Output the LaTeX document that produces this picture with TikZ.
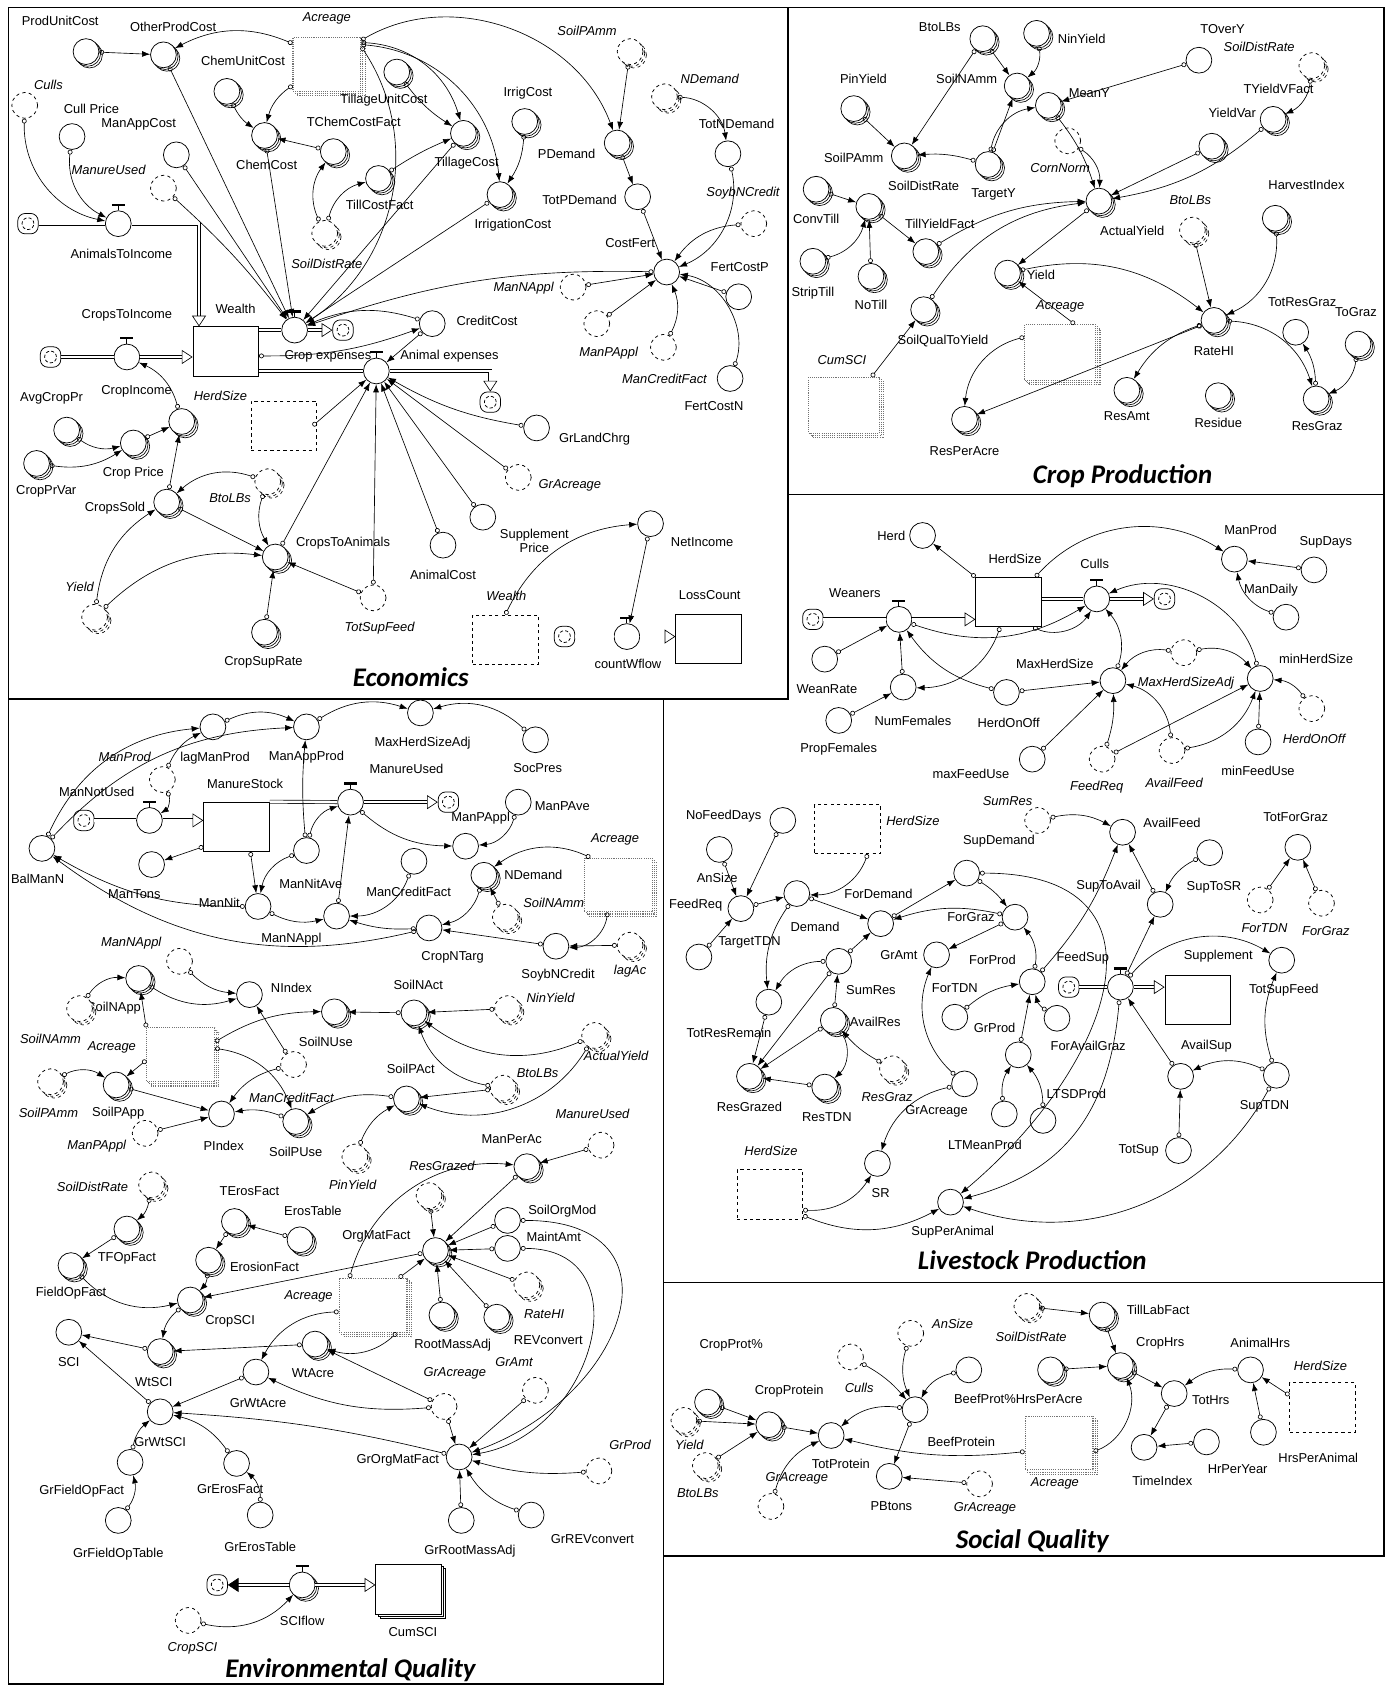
\documentclass[tikz,border=0pt]{standalone}
\usepackage{fontspec}
\setmainfont{Liberation Sans}
\newfontfamily\carlito{Carlito}
\usepackage{tikz}
\usetikzlibrary{arrows.meta, positioning, shadows}
\newcommand\lblfont{\fontsize{12}{13.5}\selectfont}
\newcommand\ttlfont{\carlito\bfseries\itshape\fontsize{25}{30}\selectfont}

\begin{document}
\begin{tikzpicture}[
    x=1pt, y=1pt,
    >=Latex,
    conv/.style={circle, draw, solid, line width=0.7pt, minimum size=24pt, inner sep=0pt, fill=white},
    arr/.style={conv,
      general shadow={shadow xshift=3.2pt, shadow yshift=-3.2pt, draw, solid, fill=white, line width=0.6pt},
      general shadow={shadow xshift=1.6pt, shadow yshift=-1.6pt, draw, solid, fill=white, line width=0.6pt}},
    ghost/.style={conv, dashed},
    garr/.style={conv, dashed,
      general shadow={shadow xshift=3.2pt, shadow yshift=-3.2pt, draw, dashed, fill=white, line width=0.6pt},
      general shadow={shadow xshift=1.6pt, shadow yshift=-1.6pt, draw, dashed, fill=white, line width=0.6pt}},
    valve/.style={conv, append after command={\pgfextra{
      \draw[line width=0.8pt] (\tikzlastnode.north) -- ++(0,5pt);
      \draw[line width=2pt] ([shift={(-6pt,5pt)}]\tikzlastnode.north) -- ++(12pt,0);}}},
    stock/.style={rectangle, draw, solid, line width=0.8pt, minimum width=61pt, minimum height=46pt, fill=white},
    gstock/.style={stock, dashed},
    astock/.style={rectangle, draw=black!55, densely dotted, line width=1pt, minimum width=63pt, minimum height=50pt, fill=white,
      general shadow={shadow xshift=4pt, shadow yshift=-4pt, draw=black!55, densely dotted, fill=white, line width=1pt},
      general shadow={shadow xshift=2pt, shadow yshift=-2pt, draw=black!55, densely dotted, fill=white, line width=1pt}},
    sstock/.style={stock,
      general shadow={shadow xshift=4pt, shadow yshift=-4pt, draw, solid, fill=white, line width=0.7pt},
      general shadow={shadow xshift=2pt, shadow yshift=-2pt, draw, solid, fill=white, line width=0.7pt}},
    cloud/.style={rectangle, rounded corners=7pt, draw, solid, line width=0.7pt, minimum size=19pt, fill=white,
      path picture={\draw[densely dashed] (path picture bounding box.center) circle (5.5pt);}},
    lab/.style={font=\lblfont, inner sep=1pt},
    glab/.style={font=\lblfont\itshape, inner sep=1pt},
    title/.style={font=\ttlfont, inner sep=1pt},
    frame/.style={line width=1.3pt},
    cn/.style={{Circle[open, length=4.5pt, width=4.5pt]}-{Latex[length=7.5pt, width=5.5pt]}, line width=0.6pt},
    pipe/.style={double, double distance=2.4pt, line width=0.6pt},
    flowin/.style={pipe, -{Triangle[open, length=10pt, width=13pt]}},
    flowout/.style={pipe, -{Triangle[length=10pt, width=13pt]}},
]
    \useasboundingbox (0,0) rectangle (1292,-1568);

    % Panel frames
    \draw[frame] (8,-7) rectangle (733,-650);
    \draw[frame] (733,-7) rectangle (1287,-460);
    \draw[frame] (1287,-460) -- (1287,-1447) -- (617,-1447) -- (617,-650);
    \draw[frame] (617,-1193) -- (1287,-1193);
    \draw[frame] (8,-650) -- (8,-1566) -- (617,-1566) -- (617,-1447);

    % ================= Economics =================
    \node[arr] (ProdUnitCost) at (80,-48) {};
    \node[lab] (lProdUnitCost) at (56,-19) {ProdUnitCost};
    \node[arr] (OtherProdCost) at (152,-51) {};
    \node[lab] (lOtherProdCost) at (161,-25) {OtherProdCost};
    \node[astock] (AcreageEc) at (304,-60) {};
    \node[glab] (lAcreageEc) at (304,-17) {Acreage};
    \node[arr] (ChemUnitCost) at (211,-85) {};
    \node[lab] (lChemUnitCost) at (226,-57) {ChemUnitCost};
    \node[arr] (TillageUnitCost) at (369,-67) {};
    \node[lab] (lTillageUnitCost) at (357,-93) {TillageUnitCost};
    \node[lab] (lTChemCostFact) at (329,-113) {TChemCostFact};
    \node[arr] (TChemCostFact) at (310,-141) {};
    \node[arr] (ChemCost) at (246,-126) {};
    \node[lab] (lChemCost) at (248,-153) {ChemCost};
    \node[ghost] (CullsE) at (23,-98) {};
    \node[glab] (lCullsE) at (45,-79) {Culls};
    \node[lab] (lCullPrice) at (85,-101) {Cull Price};
    \node[conv] (CullPrice) at (67,-127) {};
    \node[lab] (lManAppCost) at (129,-116) {ManAppCost};
    \node[conv] (ManAppCost) at (164,-144) {};
    \node[ghost] (ManureUsedE) at (152,-175) {};
    \node[glab] (lManureUsedE) at (101,-158) {ManureUsed};
    \node[arr] (TillCostFact) at (352,-166) {};
    \node[lab] (lTillCostFact) at (353,-191) {TillCostFact};
    \node[garr] (SoilDistRateE) at (302,-217) {};
    \node[glab] (lSoilDistRateE) at (304,-245) {SoilDistRate};
    \node[cloud] (cAnimals) at (26,-208) {};
    \node[valve] (AnimalsToIncome) at (110,-208) {};
    \node[lab] (lAnimalsToIncome) at (113,-236) {AnimalsToIncome};
    \node[stock] (Wealth) at (210,-327) {};
    \node[lab] (lWealth) at (219,-287) {Wealth};
    \node[lab] (lCropsToIncome) at (118,-293) {CropsToIncome};
    \node[cloud] (cCrops) at (47,-332) {};
    \node[valve] (CropIncome) at (118,-332) {};
    \node[lab] (lCropIncome) at (127,-364) {CropIncome};
    \node[valve] (CropExp) at (274,-307) {};
    \node[cloud] (cCropExp) at (319,-307) {};
    \node[lab] (lCropExp) at (305,-331) {Crop expenses};
    \node[valve] (AnimalExp) at (350,-345) {};
    \node[lab] (lAnimalExp) at (418,-331) {Animal expenses};
    \node[cloud] (cAnimalExp) at (456,-374) {};
    \node[conv] (CreditCost) at (402,-301) {};
    \node[lab] (lCreditCost) at (453,-298) {CreditCost};
    \node[arr] (TillageCost) at (431,-124) {};
    \node[lab] (lTillageCost) at (434,-152) {TillageCost};
    \node[lab] (lIrrigCost) at (491,-87) {IrrigCost};
    \node[arr] (IrrigCost) at (488,-113) {};
    \node[arr] (IrrigationCost) at (465,-181) {};
    \node[lab] (lIrrigationCost) at (477,-209) {IrrigationCost};
    \node[glab] (lSoilPAmmE) at (546,-29) {SoilPAmm};
    \node[garr] (SoilPAmmE) at (586,-48) {};
    \node[arr] (PDemand) at (574,-133) {};
    \node[lab] (lPDemand) at (527,-143) {PDemand};
    \node[glab] (lNDemandE) at (660,-73) {NDemand};
    \node[garr] (NDemandE) at (618,-90) {};
    \node[lab] (lTotNDemand) at (685,-115) {TotNDemand};
    \node[conv] (TotNDemand) at (677,-143) {};
    \node[conv] (TotPDemand) at (593,-183) {};
    \node[lab] (lTotPDemand) at (539,-186) {TotPDemand};
    \node[glab] (lSoybNCreditE) at (691,-180) {SoybNCredit};
    \node[ghost] (SoybNCreditE) at (701,-208) {};
    \node[conv] (CostFert) at (620,-253) {};
    \node[lab] (lCostFert) at (586,-226) {CostFert};
    \node[conv] (FertCostP) at (687,-276) {};
    \node[lab] (lFertCostP) at (688,-248) {FertCostP};
    \node[ghost] (ManNApplE) at (533,-267) {};
    \node[glab] (lManNApplE) at (487,-268) {ManNAppl};
    \node[ghost] (ManPApplE) at (555,-301) {};
    \node[glab] (lManPApplE) at (566,-328) {ManPAppl};
    \node[ghost] (ManCreditFactE) at (617,-323) {};
    \node[glab] (lManCreditFactE) at (618,-352) {ManCreditFact};
    \node[conv] (FertCostN) at (679,-352) {};
    \node[lab] (lFertCostN) at (664,-378) {FertCostN};
    \node[gstock] (HerdSizeE) at (264,-396) {};
    \node[glab] (lHerdSizeE) at (205,-368) {HerdSize};
    \node[lab] (lAvgCropPr) at (48,-370) {AvgCropPr};
    \node[arr] (AvgCropPr) at (62,-400) {};
    \node[arr] (CropPrice) at (124,-412) {};
    \node[lab] (lCropPrice) at (124,-440) {Crop Price};
    \node[arr] (CropInc) at (169,-392) {};
    \node[arr] (CropPrVar) at (34,-431) {};
    \node[lab] (lCropPrVar) at (43,-457) {CropPrVar};
    \node[arr] (CropsSold) at (155,-467) {};
    \node[lab] (lCropsSold) at (107,-473) {CropsSold};
    \node[garr] (BtoLBsE) at (249,-448) {};
    \node[glab] (lBtoLBsE) at (214,-463) {BtoLBs};
    \node[arr] (CropsToAnimals) at (256,-518) {};
    \node[lab] (lCropsToAnimals) at (319,-505) {CropsToAnimals};
    \node[garr] (YieldE) at (88,-574) {};
    \node[glab] (lYieldE) at (74,-546) {Yield};
    \node[arr] (CropSupRate) at (246,-588) {};
    \node[lab] (lCropSupRate) at (245,-616) {CropSupRate};
    \node[ghost] (TotSupFeedE) at (347,-556) {};
    \node[glab] (lTotSupFeedE) at (353,-584) {TotSupFeed};
    \node[conv] (GrLandChrg) at (499,-398) {};
    \node[lab] (lGrLandChrg) at (553,-408) {GrLandChrg};
    \node[ghost] (GrAcreageE) at (482,-444) {};
    \node[glab] (lGrAcreageE) at (530,-451) {GrAcreage};
    \node[conv] (SupPrice) at (449,-481) {};
    \node[lab, align=center] (lSupPrice) at (497,-503) {Supplement\\Price};
    \node[conv] (AnimalCost) at (412,-507) {};
    \node[lab] (lAnimalCost) at (412,-535) {AnimalCost};
    \node[conv] (NetIncome) at (605,-487) {};
    \node[lab] (lNetIncome) at (653,-504) {NetIncome};
    \node[gstock] (WealthG) at (470,-595) {};
    \node[glab] (lWealthG) at (471,-554) {Wealth};
    \node[cloud] (cCount) at (525,-592) {};
    \node[valve] (countWflow) at (583,-592) {};
    \node[lab] (lcountWflow) at (584,-617) {countWflow};
    \node[stock] (LossCount) at (659,-594) {};
    \node[lab] (lLossCount) at (660,-553) {LossCount};
    \node[title] (tEcon) at (382,-630) {Economics};

    \draw[pipe] (cAnimals) -- (AnimalsToIncome);
    \draw[flowin] (AnimalsToIncome) -| ([xshift=6pt]Wealth.north west);
    \draw[pipe] (cCrops) -- (CropIncome);
    \draw[flowin] (CropIncome) -- (CropIncome -| Wealth.west);
    \draw[pipe] (CropExp -| Wealth.east) -- (CropExp);
    \draw[flowin] (CropExp) -- (cCropExp);
    \draw[pipe] (AnimalExp -| Wealth.east) -- (AnimalExp);
    \draw[flowin] (AnimalExp) -| (cAnimalExp);
    \draw[pipe] (cCount) -- (countWflow);
    \draw[flowin] (countWflow) -- (countWflow -| LossCount.west);

    \draw[cn] (ProdUnitCost) -- (OtherProdCost);
    \draw[cn] ([yshift=-6pt]AcreageEc.north west) to[bend right=25] (OtherProdCost);
    \draw[cn] ([yshift=6pt]AcreageEc.south west) to[bend right=20] (ChemCost);
    \draw[cn] (ChemUnitCost) to[bend right=15] (ChemCost);
    \draw[cn] (TChemCostFact) -- (ChemCost);
    \draw[cn] (SoilDistRateE) to[bend left=30] (TChemCostFact);
    \draw[cn] (SoilDistRateE) to[bend left=30] (TillCostFact);
    \draw[cn] (TillCostFact) to[bend left=5] (TillageCost);
    \draw[cn] (TillageUnitCost) to[bend right=10] (TillageCost);
    \draw[cn] ([yshift=-5pt]AcreageEc.north east) to[bend left=35] (TillageCost);
    \draw[cn] ([yshift=-7pt]AcreageEc.north east) to[bend left=40] (IrrigationCost);
    \draw[cn] ([yshift=-3pt]AcreageEc.north east) to[bend left=50] (PDemand);
    \draw[cn] ([yshift=-9pt]AcreageEc.north east) to[bend left=45] (CropExp);
    \draw[cn] (IrrigCost) to[bend left=15] (IrrigationCost);
    \draw[cn] (SoilPAmmE) -- (PDemand);
    \draw[cn] (PDemand) -- (TotPDemand);
    \draw[cn] (TotPDemand) -- (CostFert);
    \draw[cn] (NDemandE) to[bend left=40] (TotNDemand);
    \draw[cn] (TotNDemand) to[bend left=40] (CostFert);
    \draw[cn] (SoybNCreditE) to[bend right=25] (CostFert);
    \draw[cn] (FertCostP) -- (CostFert);
    \draw[cn] (ManNApplE) -- (CostFert);
    \draw[cn] (ManPApplE) -- (CostFert);
    \draw[cn] (ManCreditFactE) to[bend right=25] (CostFert);
    \draw[cn] (FertCostN) to[bend right=50] (CostFert);
    \draw[cn] (CostFert) to[bend right=10] (CropExp);
    \draw[cn] (OtherProdCost) -- (CropExp);
    \draw[cn] (ChemCost) -- (CropExp);
    \draw[cn] (ManAppCost) -- (CropExp);
    \draw[cn] (ManureUsedE) to[bend left=5] (CropExp);
    \draw[cn] (TillageCost) -- (CropExp);
    \draw[cn] (IrrigationCost) -- (CropExp);
    \draw[cn] (CullsE) to[bend right=40] (AnimalsToIncome);
    \draw[cn] (CullPrice) to[bend right=35] (AnimalsToIncome);
    \draw[cn] (CropInc) to[bend right=25] (CropIncome);
    \draw[cn] (CropPrice) -- (CropInc);
    \draw[cn] (AvgCropPr) to[bend right=25] (CropPrice);
    \draw[cn] (CropPrVar) to[bend right=20] (CropPrice);
    \draw[cn] (CropsSold) -- (CropInc);
    \draw[cn] (BtoLBsE) to[bend right=30] (CropsSold);
    \draw[cn] (BtoLBsE) to[bend right=25] (CropsToAnimals);
    \draw[cn] (YieldE) to[bend left=25] (CropsSold);
    \draw[cn] (YieldE) to[bend left=25] (CropsToAnimals);
    \draw[cn] (CropsSold) -- (CropsToAnimals);
    \draw[cn] (CropSupRate) -- (CropsToAnimals);
    \draw[cn] (TotSupFeedE) -- (CropsToAnimals);
    \draw[cn] (CropsToAnimals) -- (AnimalExp);
    \draw[cn] ([xshift=-4pt]HerdSizeE.east) -- (AnimalExp);
    \draw[cn] (TotSupFeedE) -- (AnimalExp);
    \draw[cn] (AnimalCost) -- (AnimalExp);
    \draw[cn] (SupPrice) -- (AnimalExp);
    \draw[cn] (GrAcreageE) -- (AnimalExp);
    \draw[cn] (GrLandChrg) to[bend left=10] (AnimalExp);
    \draw[cn] (CreditCost) -- (AnimalExp);
    \draw[cn] (CreditCost) to[bend right=20] (CropExp);
    \draw[cn] ([yshift=-4pt]Wealth.east) to[bend right=10] (CreditCost);
    \draw[cn] (WealthG.north) to[bend left=30] (NetIncome);
    \draw[cn] (NetIncome) -- (countWflow);

    % ================= Crop Production =================
    \node[lab] (lBtoLBsC) at (874,-25) {BtoLBs};
    \node[arr] (BtoLBsC) at (914,-36) {};
    \node[arr] (NinYieldC) at (964,-31) {};
    \node[lab] (lNinYieldC) at (1006,-36) {NinYield};
    \node[arr] (SoilNAmmC) at (946,-80) {};
    \node[lab] (lSoilNAmmC) at (899,-73) {SoilNAmm};
    \node[lab] (lPinYieldC) at (803,-73) {PinYield};
    \node[arr] (PinYieldC) at (794,-101) {};
    \node[arr] (SoilPAmmC) at (841,-145) {};
    \node[lab] (lSoilPAmmC) at (794,-147) {SoilPAmm};
    \node[lab] (lSoilDistRateC) at (859,-173) {SoilDistRate};
    \node[arr] (TargetY) at (919,-153) {};
    \node[lab] (lTargetY) at (924,-181) {TargetY};
    \node[arr] (MeanY) at (975,-98) {};
    \node[lab] (lMeanY) at (1013,-87) {MeanY};
    \node[conv] (TOverY) at (1115,-56) {};
    \node[lab] (lTOverY) at (1137,-27) {TOverY};
    \node[glab] (lSoilDistRateC2) at (1171,-44) {SoilDistRate};
    \node[garr] (SoilDistRateC2) at (1220,-61) {};
    \node[lab] (lTYieldVFact) at (1189,-83) {TYieldVFact};
    \node[arr] (YieldVar) at (1184,-111) {};
    \node[lab] (lYieldVar) at (1146,-105) {YieldVar};
    \node[ghost] (CornNorm) at (993,-131) {};
    \node[glab] (lCornNorm) at (986,-156) {CornNorm};
    \node[arr] (YieldAdj) at (1127,-136) {};
    \node[arr] (ActualYield) at (1022,-187) {};
    \node[lab] (lActualYield) at (1053,-215) {ActualYield};
    \node[garr] (BtoLBsC2) at (1109,-214) {};
    \node[glab] (lBtoLBsC2) at (1107,-186) {BtoLBs};
    \node[lab] (lHarvestIndex) at (1215,-172) {HarvestIndex};
    \node[arr] (HarvestIndex) at (1186,-203) {};
    \node[arr] (ConvTill) at (759,-176) {};
    \node[lab] (lConvTill) at (759,-204) {ConvTill};
    \node[arr] (TillSel) at (808,-192) {};
    \node[lab] (lTillYieldFact) at (874,-208) {TillYieldFact};
    \node[arr] (TillYieldFact) at (861,-234) {};
    \node[arr] (StripTill) at (756,-243) {};
    \node[lab] (lStripTill) at (756,-273) {StripTill};
    \node[arr] (NoTill) at (810,-257) {};
    \node[lab] (lNoTill) at (810,-284) {NoTill};
    \node[arr] (YieldC) at (937,-254) {};
    \node[lab] (lYieldC) at (968,-256) {Yield};
    \node[glab] (lAcreageC) at (986,-285) {Acreage};
    \node[astock, minimum width=66pt, minimum height=52pt] (AcreageC) at (986,-328) {};
    \node[arr] (SoilQualToYield) at (859,-288) {};
    \node[lab] (lSoilQualToYield) at (877,-317) {SoilQualToYield};
    \node[glab] (lCumSCIC) at (783,-335) {CumSCI};
    \node[astock, minimum width=66pt, minimum height=52pt] (CumSCIC) at (785,-377) {};
    \node[arr] (RateHI) at (1129,-298) {};
    \node[lab] (lRateHI) at (1129,-327) {RateHI};
    \node[lab] (lTotResGraz) at (1211,-281) {TotResGraz};
    \node[conv] (TotResGraz) at (1205,-309) {};
    \node[lab] (lToGraz) at (1261,-290) {ToGraz};
    \node[arr] (ToGraz) at (1263,-320) {};
    \node[arr] (ResGraz) at (1224,-371) {};
    \node[lab] (lResGraz) at (1225,-396) {ResGraz};
    \node[arr] (ResAmt) at (1048,-363) {};
    \node[lab] (lResAmt) at (1048,-387) {ResAmt};
    \node[arr] (Residue) at (1133,-368) {};
    \node[lab] (lResidue) at (1133,-393) {Residue};
    \node[arr] (ResPerAcre) at (897,-390) {};
    \node[lab] (lResPerAcre) at (897,-420) {ResPerAcre};
    \node[title] (tCrop) at (1044,-443) {Crop Production};

    \draw[cn] (BtoLBsC) -- (SoilPAmmC);
    \draw[cn] (BtoLBsC) -- (SoilNAmmC);
    \draw[cn] (NinYieldC) to[bend left=30] (SoilNAmmC);
    \draw[cn] (PinYieldC) -- (SoilPAmmC);
    \draw[cn] (TargetY) to[bend right=10] (SoilPAmmC);
    \draw[cn] (TargetY) -- (SoilNAmmC);
    \draw[cn] (TargetY) to[bend left=35] (MeanY);
    \draw[cn] (TOverY) -- (MeanY);
    \draw[cn] (SoilDistRateC2) to[bend left=30] (YieldVar);
    \draw[cn] (MeanY) to[bend left=10] (ActualYield);
    \draw[cn] (YieldVar) to[bend left=15] (ActualYield);
    \draw[cn] (YieldAdj) -- (ActualYield);
    \draw[cn] (CornNorm) to[bend left=30] (ActualYield);
    \draw[cn] (TillYieldFact) to[bend left=15] (ActualYield);
    \draw[cn] (ConvTill) -- (TillSel);
    \draw[cn] (StripTill) to[bend right=30] (TillSel);
    \draw[cn] (NoTill) -- (TillSel);
    \draw[cn] (TillSel) -- (TillYieldFact);
    \draw[cn] (SoilQualToYield) to[bend left=25] (ActualYield);
    \draw[cn] ([xshift=-8pt]CumSCIC.north east) -- (SoilQualToYield);
    \draw[cn] (ActualYield) -- (YieldC);
    \draw[cn] ([xshift=-20pt]AcreageC.north east) -- (YieldC);
    \draw[cn] (YieldC) to[bend left=25] (RateHI);
    \draw[cn] (BtoLBsC2) -- (RateHI);
    \draw[cn] (HarvestIndex) to[bend left=35] (RateHI);
    \draw[cn] (RateHI) to[bend right=20] (ResAmt);
    \draw[cn] (RateHI) -- (ResPerAcre);
    \draw[cn] ([yshift=-12pt]AcreageC.north west) to[bend right=35] (ResPerAcre);
    \draw[cn] (RateHI) to[bend left=35] (ResGraz);
    \draw[cn] (ResGraz) to[bend right=15] (TotResGraz);
    \draw[cn] (ToGraz) to[bend left=30] (ResGraz);

    % ================= Livestock Production =================
    \node[lab] (lHerd) at (829,-498) {Herd};
    \node[conv] (Herd) at (858,-498) {};
    \node[lab] (lHerdSize) at (944,-520) {HerdSize};
    \node[stock] (HerdSize) at (938,-560) {};
    \node[lab] (lCulls) at (1018,-524) {Culls};
    \node[valve] (Culls) at (1020,-557) {};
    \node[cloud] (cCulls) at (1083,-557) {};
    \node[lab] (lWeaners) at (795,-552) {Weaners};
    \node[valve] (Weaners) at (836,-576) {};
    \node[cloud] (cWeaners) at (756,-576) {};
    \node[lab] (lManProd) at (1163,-493) {ManProd};
    \node[conv] (ManProd) at (1148,-520) {};
    \node[lab] (lSupDays) at (1233,-504) {SupDays};
    \node[conv] (SupDays) at (1222,-530) {};
    \node[lab] (lManDaily) at (1182,-549) {ManDaily};
    \node[conv] (ManDaily) at (1196,-574) {};
    \node[conv] (WeanRate) at (767,-613) {};
    \node[lab] (lWeanRate) at (769,-641) {WeanRate};
    \node[conv] (NumFemales) at (840,-639) {};
    \node[lab] (lNumFemales) at (849,-670) {NumFemales};
    \node[conv] (PropFemales) at (780,-670) {};
    \node[lab] (lPropFemales) at (780,-697) {PropFemales};
    \node[conv] (HerdOnOff) at (936,-644) {};
    \node[lab] (lHerdOnOff) at (938,-672) {HerdOnOff};
    \node[lab] (lMaxHerdSize) at (981,-617) {MaxHerdSize};
    \node[conv] (MaxHerdSize) at (1035,-633) {};
    \node[ghost] (MaxHerdSizeAdjL) at (1101,-607) {};
    \node[glab] (lMaxHerdSizeAdjL) at (1103,-635) {MaxHerdSizeAdj};
    \node[lab] (lminHerdSize) at (1224,-613) {minHerdSize};
    \node[conv] (minHerdSize) at (1172,-631) {};
    \node[ghost] (HerdOnOffL) at (1220,-659) {};
    \node[glab] (lHerdOnOffL) at (1222,-687) {HerdOnOff};
    \node[conv] (minFeedUse) at (1170,-690) {};
    \node[lab] (lminFeedUse) at (1170,-717) {minFeedUse};
    \node[conv] (maxFeedUse) at (960,-706) {};
    \node[lab] (lmaxFeedUse) at (903,-720) {maxFeedUse};
    \node[ghost] (FeedReqL) at (1025,-706) {};
    \node[glab] (lFeedReqL) at (1020,-732) {FeedReq};
    \node[ghost] (AvailFeedL) at (1090,-698) {};
    \node[glab] (lAvailFeedL) at (1092,-728) {AvailFeed};
    \node[glab] (lSumResL) at (937,-745) {SumRes};
    \node[ghost] (SumResL) at (965,-763) {};
    \node[lab] (lAvailFeed) at (1090,-765) {AvailFeed};
    \node[conv] (AvailFeed) at (1044,-774) {};
    \node[lab] (lNoFeedDays) at (673,-759) {NoFeedDays};
    \node[conv] (NoFeedDays) at (728,-763) {};
    \node[gstock] (HerdSizeL) at (788,-771) {};
    \node[glab] (lHerdSizeL) at (849,-763) {HerdSize};
    \node[lab] (lSupDemand) at (929,-782) {SupDemand};
    \node[conv] (SupDemand) at (899,-812) {};
    \node[lab] (lTotForGraz) at (1205,-760) {TotForGraz};
    \node[conv] (TotForGraz) at (1207,-788) {};
    \node[conv] (AnSize) at (669,-790) {};
    \node[lab] (lAnSize) at (667,-816) {AnSize};
    \node[conv] (SupSR) at (1125,-793) {};
    \node[lab] (lSupToAvail) at (1031,-824) {SupToAvail};
    \node[lab] (lSupToSR) at (1129,-825) {SupToSR};
    \node[conv] (SupToSR) at (1079,-841) {};
    \node[ghost] (ForTDNL) at (1172,-837) {};
    \node[glab] (lForTDNL) at (1176,-863) {ForTDN};
    \node[ghost] (ForGrazL) at (1229,-840) {};
    \node[glab] (lForGrazL) at (1233,-866) {ForGraz};
    \node[lab] (lFeedReq) at (647,-842) {FeedReq};
    \node[conv] (FeedReq) at (689,-845) {};
    \node[lab] (lTargetTDN) at (697,-876) {TargetTDN};
    \node[conv] (TargetTDN) at (650,-890) {};
    \node[conv] (Demand) at (741,-831) {};
    \node[lab] (lDemand) at (758,-862) {Demand};
    \node[lab] (lForDemand) at (817,-831) {ForDemand};
    \node[conv] (ForDemand) at (819,-859) {};
    \node[lab] (lForGraz) at (903,-853) {ForGraz};
    \node[conv] (ForGraz) at (944,-853) {};
    \node[lab] (lGrAmt) at (836,-888) {GrAmt};
    \node[conv] (GrAmt) at (871,-888) {};
    \node[lab] (lForProd) at (923,-893) {ForProd};
    \node[conv] (ForProd) at (960,-913) {};
    \node[lab] (lForTDN) at (888,-919) {ForTDN};
    \node[conv] (ForTDN) at (888,-946) {};
    \node[lab] (lFeedSup) at (1007,-891) {FeedSup};
    \node[valve] (FeedSup) at (1042,-918) {};
    \node[cloud] (cFeedSup) at (994,-918) {};
    \node[stock] (Supplement) at (1114,-930) {};
    \node[lab] (lSupplement) at (1133,-889) {Supplement};
    \node[conv] (TotSupFeed) at (1192,-893) {};
    \node[lab] (lTotSupFeed) at (1194,-921) {TotSupFeed};
    \node[conv] (SumRes) at (780,-894) {};
    \node[lab] (lSumRes) at (810,-921) {SumRes};
    \node[conv] (TotResRemain) at (715,-932) {};
    \node[lab] (lTotResRemain) at (678,-961) {TotResRemain};
    \node[arr] (AvailRes) at (775,-949) {};
    \node[lab] (lAvailRes) at (814,-950) {AvailRes};
    \node[arr] (ResGrazed) at (697,-1001) {};
    \node[lab] (lResGrazed) at (697,-1029) {ResGrazed};
    \node[arr] (ResTDN) at (767,-1011) {};
    \node[lab] (lResTDN) at (769,-1039) {ResTDN};
    \node[garr] (ResGrazL) at (830,-994) {};
    \node[glab] (lResGrazL) at (825,-1020) {ResGraz};
    \node[conv] (GrAcreageL) at (897,-1008) {};
    \node[lab] (lGrAcreageL) at (871,-1034) {GrAcreage};
    \node[lab] (lGrProd) at (925,-956) {GrProd};
    \node[conv] (GrProd) at (947,-981) {};
    \node[lab] (lForAvailGraz) at (1012,-973) {ForAvailGraz};
    \node[conv] (ForAvailGraz) at (983,-947) {};
    \node[lab] (lLTSDProd) at (1001,-1017) {LTSDProd};
    \node[conv] (LTMeanProd) at (934,-1036) {};
    \node[conv] (LTSDProd) at (970,-1042) {};
    \node[lab] (lLTMeanProd) at (916,-1065) {LTMeanProd};
    \node[gstock] (HerdSizeL2) at (716,-1111) {};
    \node[glab] (lHerdSizeL2) at (717,-1070) {HerdSize};
    \node[conv] (SR) at (816,-1082) {};
    \node[lab] (lSR) at (819,-1110) {SR};
    \node[conv] (SupPerAnimal) at (884,-1118) {};
    \node[lab] (lSupPerAnimal) at (886,-1146) {SupPerAnimal};
    \node[conv] (TotSup) at (1096,-1070) {};
    \node[lab] (lTotSup) at (1059,-1070) {TotSup};
    \node[conv] (AvailSup) at (1098,-1001) {};
    \node[lab] (lAvailSup) at (1122,-973) {AvailSup};
    \node[conv] (SupTDN) at (1187,-1000) {};
    \node[lab] (lSupTDN) at (1176,-1029) {SupTDN};
    \node[title] (tLive) at (960,-1172) {Livestock Production};

    \draw[pipe] (cWeaners) -- (Weaners);
    \draw[flowin] (Weaners) -- (Weaners -| HerdSize.west);
    \draw[pipe] (Culls -| HerdSize.east) -- (Culls);
    \draw[flowin] (Culls) -- (cCulls);
    \draw[pipe] (cFeedSup) -- (FeedSup);
    \draw[flowin] (FeedSup) -- (FeedSup -| Supplement.west);

    \draw[cn] (HerdSize.north west) -- (Herd);
    \draw[cn] ([xshift=-6pt]HerdSize.north east) to[bend left=40] (ManProd);
    \draw[cn] (SupDays) -- (ManProd);
    \draw[cn] (ManDaily) to[bend left=30] (ManProd);
    \draw[cn] (WeanRate) -- (Weaners);
    \draw[cn] (NumFemales) -- (Weaners);
    \draw[cn] (PropFemales) -- (NumFemales);
    \draw[cn] ([xshift=-8pt]HerdSize.south) to[bend left=35] (NumFemales);
    \draw[cn] ([xshift=-8pt]HerdSize.south east) to[bend right=40] (Culls);
    \draw[cn] (Weaners) to[bend right=25] (Culls);
    \draw[cn] (HerdOnOff) to[bend left=20] (Weaners);
    \draw[cn] (HerdOnOff) -- (MaxHerdSize);
    \draw[cn] (MaxHerdSize) to[bend right=30] (Culls);
    \draw[cn] (minHerdSize) to[bend right=50] (Culls);
    \draw[cn] (MaxHerdSizeAdjL) to[bend right=30] (MaxHerdSize);
    \draw[cn] (MaxHerdSizeAdjL) to[bend left=30] (minHerdSize);
    \draw[cn] (maxFeedUse) -- (MaxHerdSize);
    \draw[cn] (FeedReqL) to[bend right=10] (MaxHerdSize);
    \draw[cn] (FeedReqL) -- (minHerdSize);
    \draw[cn] (AvailFeedL) to[bend right=35] (MaxHerdSize);
    \draw[cn] (AvailFeedL) to[bend right=30] (minHerdSize);
    \draw[cn] (minFeedUse) -- (minHerdSize);
    \draw[cn] (HerdOnOffL) to[bend right=25] (minHerdSize);
    \draw[cn] (NoFeedDays) -- (FeedReq);
    \draw[cn] (AnSize) -- (FeedReq);
    \draw[cn] (TargetTDN) -- (FeedReq);
    \draw[cn] (FeedReq) -- (Demand);
    \draw[cn] ([xshift=-12pt]HerdSizeL.south east) to[bend left=35] (Demand);
    \draw[cn] (Demand) -- (ForDemand);
    \draw[cn] (Demand) to[bend right=20] (TotResRemain);
    \draw[cn] (ForDemand) -- (SupDemand);
    \draw[cn] (SumRes) -- (ForDemand);
    \draw[cn] (SumResL) to[bend left=20] (AvailFeed);
    \draw[cn] (ForGraz) to[bend right=15] (ForDemand);
    \draw[cn] (ForGraz) -- (GrAmt);
    \draw[cn] (ForProd) to[bend right=25] (ForGraz);
    \draw[cn] (SupDemand) to[bend left=10] (ForGraz);
    \draw[cn] (GrAcreageL) to[bend left=35] (GrAmt);
    \draw[cn] (ForTDN) to[bend left=15] (ForProd);
    \draw[cn] (ForAvailGraz) to[bend left=20] (ForProd);
    \draw[cn] (GrProd) -- (ForProd);
    \draw[cn] (LTMeanProd) to[bend left=20] (GrProd);
    \draw[cn] (LTSDProd) to[bend right=20] (GrProd);
    \draw[cn] (ForProd) to[bend right=10] (AvailFeed);
    \draw[cn] (FeedSup) -- (SupToSR);
    \draw[cn] (SupSR) to[bend right=20] (SupToSR);
    \draw[cn] (SupToSR) -- (AvailFeed);
    \draw[cn] (FeedSup) to[bend left=40] (TotSupFeed);
    \draw[cn] (SupTDN) to[bend left=20] (TotSupFeed);
    \draw[cn] (SupTDN) to[bend right=25] (AvailSup);
    \draw[cn] (TotSup) -- (AvailSup);
    \draw[cn] (AvailSup) -- (FeedSup);
    \draw[cn] (SupDemand) to[out=0, in=40, looseness=1.6] (SupPerAnimal);
    \draw[cn] (FeedSup) to[out=-95, in=15, looseness=1.1] (SupPerAnimal);
    \draw[cn] (SupTDN) to[bend left=40] (SupPerAnimal);
    \draw[cn] ([yshift=9pt]HerdSizeL2.south east) to[bend right=30] (SR);
    \draw[cn] ([yshift=4pt]HerdSizeL2.south east) to[bend right=25] (SupPerAnimal);
    \draw[cn] (GrAcreageL) to[bend right=30] (SR);
    \draw[cn] (ResGrazL) to[bend left=10] (AvailRes);
    \draw[cn] (AvailRes) -- (SumRes);
    \draw[cn] (SumRes) to[bend right=30] (TotResRemain);
    \draw[cn] (TotResRemain) -- (ResGrazed);
    \draw[cn] (SumRes) -- (ResGrazed);
    \draw[cn] (AvailRes) -- (ResGrazed);
    \draw[cn] (ResTDN) -- (ResGrazed);
    \draw[cn] (AvailRes) to[bend left=40] (ResTDN);
    \draw[cn] (ForTDNL) -- (TotForGraz);
    \draw[cn] (ForGrazL) -- (TotForGraz);

    % ================= Social Quality =================
    \node[garr] (SoilDistRateS) at (955,-1215) {};
    \node[glab] (lSoilDistRateS) at (959,-1243) {SoilDistRate};
    \node[arr] (TillLabFact) at (1025,-1223) {};
    \node[lab] (lTillLabFact) at (1077,-1218) {TillLabFact};
    \node[ghost] (AnSizeS) at (847,-1240) {};
    \node[glab] (lAnSizeS) at (886,-1231) {AnSize};
    \node[lab] (lCropProt) at (680,-1251) {CropProt\%};
    \node[arr] (CropProt) at (658,-1304) {};
    \node[arr] (CropHrs) at (1042,-1270) {};
    \node[lab] (lCropHrs) at (1079,-1249) {CropHrs};
    \node[lab] (lAnimalHrs) at (1172,-1249) {AnimalHrs};
    \node[conv] (AnimalHrs) at (1163,-1274) {};
    \node[glab] (lHerdSizeS) at (1228,-1270) {HerdSize};
    \node[gstock] (HerdSizeS) at (1230,-1309) {};
    \node[ghost] (CullsS) at (791,-1262) {};
    \node[glab] (lCullsS) at (799,-1291) {Culls};
    \node[conv] (BeefProt) at (901,-1274) {};
    \node[lab] (lBeefProt) at (947,-1301) {BeefProt\%HrsPerAcre};
    \node[arr] (HrsPerAcre) at (977,-1274) {};
    \node[arr] (CropProtein) at (715,-1325) {};
    \node[lab] (lCropProtein) at (734,-1294) {CropProtein};
    \node[garr] (YieldS) at (636,-1321) {};
    \node[glab] (lYieldS) at (641,-1344) {Yield};
    \node[garr] (BtoLBsS) at (656,-1363) {};
    \node[glab] (lBtoLBsS) at (649,-1389) {BtoLBs};
    \node[conv] (TotProtein) at (773,-1335) {};
    \node[lab] (lTotProtein) at (782,-1361) {TotProtein};
    \node[conv] (BeefProtein) at (851,-1311) {};
    \node[lab] (lBeefProtein) at (894,-1341) {BeefProtein};
    \node[conv] (PBtons) at (827,-1373) {};
    \node[lab] (lPBtons) at (829,-1401) {PBtons};
    \node[ghost] (GrAcreageS) at (717,-1401) {};
    \node[glab] (lGrAcreageS) at (741,-1375) {GrAcreage};
    \node[ghost] (GrAcreageS2) at (911,-1380) {};
    \node[glab] (lGrAcreageS2) at (916,-1403) {GrAcreage};
    \node[astock] (AcreageS) at (985,-1342) {};
    \node[glab] (lAcreageS) at (981,-1380) {Acreage};
    \node[conv] (TotHrs) at (1092,-1296) {};
    \node[lab] (lTotHrs) at (1126,-1302) {TotHrs};
    \node[conv] (TimeIndex) at (1064,-1346) {};
    \node[lab] (lTimeIndex) at (1081,-1377) {TimeIndex};
    \node[conv] (HrPerYear) at (1122,-1341) {};
    \node[lab] (lHrPerYear) at (1151,-1366) {HrPerYear};
    \node[conv] (HrsPerAnimal) at (1175,-1332) {};
    \node[lab] (lHrsPerAnimal) at (1226,-1356) {HrsPerAnimal};
    \node[title] (tSocial) at (960,-1433) {Social Quality};

    \draw[cn] (SoilDistRateS) -- (TillLabFact);
    \draw[cn] (TillLabFact) -- (CropHrs);
    \draw[cn] (HrsPerAcre) -- (CropHrs);
    \draw[cn] ([yshift=-8pt]AcreageS.east) to[bend right=45] (CropHrs);
    \draw[cn] (CropHrs) -- (TotHrs);
    \draw[cn] (AnimalHrs) to[bend right=20] (TotHrs);
    \draw[cn] ([yshift=-12pt]HerdSizeS.north west) -- (AnimalHrs);
    \draw[cn] (HrsPerAnimal) -- (AnimalHrs);
    \draw[cn] (TotHrs) -- (TimeIndex);
    \draw[cn] (HrPerYear) -- (TimeIndex);
    \draw[cn] (CropProt) -- (CropProtein);
    \draw[cn] (YieldS) -- (CropProtein);
    \draw[cn] (BtoLBsS) -- (CropProtein);
    \draw[cn] (CropProtein) -- (TotProtein);
    \draw[cn] (GrAcreageS) to[bend left=25] (TotProtein);
    \draw[cn] (BeefProtein) to[bend right=25] (TotProtein);
    \draw[cn] ([yshift=-8pt]AcreageS.west) to[bend left=10] (TotProtein);
    \draw[cn] (AnSizeS) to[bend right=20] (BeefProtein);
    \draw[cn] (CullsS) to[bend left=10] (BeefProtein);
    \draw[cn] (BeefProt) to[bend right=25] (BeefProtein);
    \draw[cn] (BeefProtein) -- (PBtons);
    \draw[cn] (GrAcreageS2) -- (PBtons);

    % ================= Environmental Quality =================
    \node[conv] (MaxHerdSizeAdj) at (391,-663) {};
    \node[lab] (lMaxHerdSizeAdj) at (393,-691) {MaxHerdSizeAdj};
    \node[conv] (SocPres) at (498,-688) {};
    \node[lab] (lSocPres) at (500,-714) {SocPres};
    \node[conv] (lagManProd) at (198,-676) {};
    \node[lab] (llagManProd) at (200,-705) {lagManProd};
    \node[conv] (ManAppProd) at (285,-676) {};
    \node[lab] (lManAppProd) at (285,-704) {ManAppProd};
    \node[ghost] (ManProdQ) at (151,-725) {};
    \node[glab] (lManProdQ) at (116,-704) {ManProd};
    \node[lab] (lManureUsed) at (378,-715) {ManureUsed};
    \node[valve] (ManureUsed) at (326,-746) {};
    \node[lab] (lManureStock) at (228,-729) {ManureStock};
    \node[stock] (ManureStock) at (220,-769) {};
    \node[lab] (lManNotUsed) at (90,-736) {ManNotUsed};
    \node[cloud] (cManNot) at (78,-763) {};
    \node[valve] (ManNotUsed) at (139,-763) {};
    \node[cloud] (cManUsed) at (417,-746) {};
    \node[lab] (lManPAppl) at (447,-761) {ManPAppl};
    \node[lab] (lManPAve) at (523,-750) {ManPAve};
    \node[conv] (ManPAve) at (482,-746) {};
    \node[conv] (ManPAppl) at (433,-787) {};
    \node[conv] (BalManN) at (39,-789) {};
    \node[lab] (lBalManN) at (35,-817) {BalManN};
    \node[conv] (ManTons) at (141,-804) {};
    \node[lab] (lManTons) at (125,-832) {ManTons};
    \node[conv] (ManNitAve) at (285,-791) {};
    \node[lab] (lManNitAve) at (289,-822) {ManNitAve};
    \node[conv] (ManNit) at (240,-843) {};
    \node[lab] (lManNit) at (204,-840) {ManNit};
    \node[conv] (ManCreditFact) at (385,-801) {};
    \node[lab] (lManCreditFact) at (380,-829) {ManCreditFact};
    \node[conv] (ManNAppl) at (313,-852) {};
    \node[lab] (lManNAppl) at (271,-873) {ManNAppl};
    \node[arr] (NDemand) at (450,-814) {};
    \node[lab] (lNDemand) at (496,-814) {NDemand};
    \node[garr] (SoilNAmmQ1) at (470,-853) {};
    \node[glab] (lSoilNAmmQ1) at (515,-840) {SoilNAmm};
    \node[glab] (lAcreageQ1) at (572,-781) {Acreage};
    \node[astock] (AcreageQ1) at (575,-823) {};
    \node[conv] (CropNTarg) at (399,-863) {};
    \node[lab] (lCropNTarg) at (421,-890) {CropNTarg};
    \node[conv] (SoybNCredit) at (517,-880) {};
    \node[lab] (lSoybNCredit) at (519,-907) {SoybNCredit};
    \node[garr] (lagAc) at (586,-879) {};
    \node[glab] (llagAc) at (586,-903) {lagAc};
    \node[ghost] (ManNApplQ) at (167,-894) {};
    \node[glab] (lManNApplQ) at (122,-877) {ManNAppl};
    \node[arr] (SoilNApp) at (129,-910) {};
    \node[lab] (lSoilNApp) at (106,-938) {SoilNApp};
    \node[conv] (NIndex) at (232,-925) {};
    \node[lab] (lNIndex) at (271,-919) {NIndex};
    \node[lab] (lSoilNAct) at (389,-916) {SoilNAct};
    \node[garr] (NinYieldQ) at (472,-938) {};
    \node[glab] (lNinYieldQ) at (512,-928) {NinYield};
    \node[garr] (SoilNAmmQ2) at (74,-938) {};
    \node[glab] (lSoilNAmmQ2) at (47,-966) {SoilNAmm};
    \node[glab] (lAcreageQ2) at (104,-974) {Acreage};
    \node[astock] (AcreageQ2) at (168,-981) {};
    \node[arr] (SoilNUse) at (311,-941) {};
    \node[lab] (lSoilNUse) at (303,-969) {SoilNUse};
    \node[arr] (SoilNAct) at (385,-942) {};
    \node[ghost] (ManCreditFactQ) at (273,-990) {};
    \node[glab] (lManCreditFactQ) at (271,-1021) {ManCreditFact};
    \node[garr] (ActualYieldQ) at (553,-963) {};
    \node[glab] (lActualYieldQ) at (573,-982) {ActualYield};
    \node[garr] (BtoLBsQ) at (468,-1012) {};
    \node[glab] (lBtoLBsQ) at (500,-998) {BtoLBs};
    \node[lab] (lSoilPAct) at (382,-994) {SoilPAct};
    \node[arr] (SoilPAct) at (378,-1022) {};
    \node[glab] (lManureUsedQ) at (551,-1036) {ManureUsed};
    \node[garr] (SoilPAmmQ) at (47,-1006) {};
    \node[glab] (lSoilPAmmQ) at (45,-1035) {SoilPAmm};
    \node[arr] (SoilPApp) at (108,-1009) {};
    \node[lab] (lSoilPApp) at (110,-1035) {SoilPApp};
    \node[conv] (PIndex) at (206,-1036) {};
    \node[lab] (lPIndex) at (208,-1066) {PIndex};
    \node[arr] (SoilPUse) at (275,-1043) {};
    \node[lab] (lSoilPUse) at (275,-1071) {SoilPUse};
    \node[ghost] (ManPApplQ) at (135,-1054) {};
    \node[glab] (lManPApplQ) at (90,-1066) {ManPAppl};
    \node[garr] (PinYieldQ) at (330,-1076) {};
    \node[glab] (lPinYieldQ) at (328,-1102) {PinYield};
    \node[arr] (ManPerAc) at (490,-1085) {};
    \node[lab] (lManPerAc) at (476,-1059) {ManPerAc};
    \node[ghost] (ManPerAcIn) at (559,-1065) {};
    \node[glab] (lResGrazedQ) at (411,-1084) {ResGrazed};
    \node[glab] (lSoilDistRateQ) at (86,-1104) {SoilDistRate};
    \node[garr] (SoilDistRateQ) at (141,-1102) {};
    \node[lab] (lTErosFact) at (232,-1108) {TErosFact};
    \node[arr] (TErosFact) at (218,-1136) {};
    \node[lab] (lErosTable) at (291,-1126) {ErosTable};
    \node[arr] (ErosTable) at (279,-1153) {};
    \node[garr] (ResGrazedQ) at (399,-1112) {};
    \node[lab] (lSoilOrgMod) at (523,-1126) {SoilOrgMod};
    \node[conv] (SoilOrgMod) at (472,-1135) {};
    \node[lab] (lMaintAmt) at (515,-1150) {MaintAmt};
    \node[conv] (MaintAmt) at (472,-1161) {};
    \node[lab] (lOrgMatFact) at (350,-1150) {OrgMatFact};
    \node[arr] (OrgMatFact) at (405,-1163) {};
    \node[arr] (TFOpFactIn) at (118,-1143) {};
    \node[lab] (lTFOpFact) at (118,-1170) {TFOpFact};
    \node[arr] (TFOpFact) at (66,-1177) {};
    \node[arr] (ErosionFact) at (194,-1172) {};
    \node[lab] (lErosionFact) at (246,-1178) {ErosionFact};
    \node[lab] (lFieldOpFact) at (66,-1203) {FieldOpFact};
    \node[arr] (CropSCI) at (177,-1209) {};
    \node[lab] (lCropSCI) at (214,-1229) {CropSCI};
    \node[glab] (lAcreageQ3) at (287,-1206) {Acreage};
    \node[astock] (AcreageQ3) at (347,-1214) {};
    \node[garr] (RateHIQ) at (490,-1195) {};
    \node[glab] (lRateHIQ) at (506,-1222) {RateHI};
    \node[arr] (RootMassAdj) at (411,-1223) {};
    \node[lab] (lRootMassAdj) at (421,-1251) {RootMassAdj};
    \node[arr] (REVconvert) at (462,-1225) {};
    \node[lab] (lREVconvert) at (510,-1246) {REVconvert};
    \node[glab] (lGrAmtQ) at (478,-1267) {GrAmt};
    \node[ghost] (GrAmtQ) at (498,-1293) {};
    \node[glab] (lGrAcreageQ) at (423,-1277) {GrAcreage};
    \node[ghost] (GrAcreageQ) at (413,-1308) {};
    \node[conv] (SCI) at (64,-1239) {};
    \node[lab] (lSCI) at (64,-1267) {SCI};
    \node[arr] (WtSCI) at (149,-1257) {};
    \node[lab] (lWtSCI) at (143,-1285) {WtSCI};
    \node[arr] (WtAcre) at (293,-1250) {};
    \node[lab] (lWtAcre) at (291,-1277) {WtAcre};
    \node[conv] (GrWtAcre) at (238,-1276) {};
    \node[lab] (lGrWtAcre) at (240,-1305) {GrWtAcre};
    \node[conv] (GrWtSCI) at (149,-1313) {};
    \node[lab] (lGrWtSCI) at (149,-1341) {GrWtSCI};
    \node[conv] (GrOrgMatFact) at (427,-1355) {};
    \node[lab] (lGrOrgMatFact) at (370,-1358) {GrOrgMatFact};
    \node[glab] (lGrProdQ) at (586,-1344) {GrProd};
    \node[ghost] (GrProdQ) at (557,-1368) {};
    \node[conv] (GrFieldOpFact) at (121,-1360) {};
    \node[lab] (lGrFieldOpFact) at (76,-1387) {GrFieldOpFact};
    \node[conv] (GrErosFact) at (220,-1361) {};
    \node[lab] (lGrErosFact) at (214,-1385) {GrErosFact};
    \node[conv] (GrFieldOpTable) at (110,-1414) {};
    \node[lab] (lGrFieldOpTable) at (110,-1445) {GrFieldOpTable};
    \node[conv] (GrErosTable) at (242,-1409) {};
    \node[lab] (lGrErosTable) at (242,-1439) {GrErosTable};
    \node[conv] (GrRootMassAdj) at (429,-1414) {};
    \node[lab] (lGrRootMassAdj) at (437,-1443) {GrRootMassAdj};
    \node[conv] (GrREVconvert) at (494,-1409) {};
    \node[lab] (lGrREVconvert) at (551,-1431) {GrREVconvert};
    \node[cloud] (cSCI) at (202,-1474) {};
    \node[valve, arr] (SCIflow) at (281,-1474) {};
    \node[lab] (lSCIflow) at (281,-1507) {SCIflow};
    \node[sstock] (CumSCI) at (380,-1478) {};
    \node[lab] (lCumSCI) at (384,-1518) {CumSCI};
    \node[ghost] (CropSCIQ) at (175,-1507) {};
    \node[glab] (lCropSCIQ) at (179,-1533) {CropSCI};
    \node[title] (tEnv) at (326,-1553) {Environmental Quality};

    \draw[pipe] (cManNot) -- (ManNotUsed);
    \draw[flowin] (ManNotUsed) -- (ManNotUsed -| ManureStock.west);
    \draw[pipe] (ManureStock.north east) -- (ManureUsed);
    \draw[flowin] (ManureUsed) -- (cManUsed);
    \draw[flowout] (SCIflow) -- (cSCI);
    \draw[flowin] (SCIflow) -- (SCIflow -| CumSCI.west);

    \draw[cn] (ManProdQ) to[bend left=20] (lagManProd);
    \draw[cn] (ManProdQ) to[bend left=40] (ManNotUsed);
    \draw[cn] (lagManProd) to[bend left=25] (ManAppProd);
    \draw[cn] (BalManN) to[bend left=30] (lagManProd);
    \draw[cn] (BalManN) to[bend left=22] (ManAppProd);
    \draw[cn] (ManAppProd) to[bend left=25] (MaxHerdSizeAdj);
    \draw[cn] (SocPres) to[bend right=30] (MaxHerdSizeAdj);
    \draw[cn] (ManNitAve) to[bend left=5] (ManAppProd);
    \draw[cn] ([yshift=5pt]ManureStock.south west) -- (ManTons);
    \draw[cn] ([xshift=-18pt]ManureStock.south east) -- (ManNit);
    \draw[cn] (ManNitAve) to[bend right=30] (ManNit);
    \draw[cn] (ManNitAve) to[bend left=30] (ManureUsed);
    \draw[cn] (ManNit) to[bend right=20] (ManNAppl);
    \draw[cn] (ManNAppl) -- (ManureUsed);
    \draw[cn] (ManCreditFact) to[bend left=35] (ManNAppl);
    \draw[cn] (CropNTarg) to[bend left=10] (ManNAppl);
    \draw[cn] (ManureUsed) to[bend right=20] (ManPAppl);
    \draw[cn] (ManPAve) to[bend left=35] (ManPAppl);
    \draw[cn] ([xshift=6pt]AcreageQ1.north west) to[bend right=30] (NDemand);
    \draw[cn] (SoilNAmmQ1) -- (NDemand);
    \draw[cn] (NDemand) to[bend left=30] (CropNTarg);
    \draw[cn] (SoybNCredit) -- (CropNTarg);
    \draw[cn] ([xshift=-10pt]AcreageQ1.south) to[bend left=40] (SoybNCredit);
    \draw[cn] (lagAc) -- (SoybNCredit);
    \draw[cn] (ManNit) to[bend left=15] (BalManN);
    \draw[cn] (CropNTarg) to[bend left=25] (BalManN);
    \draw[cn] (SoilNAmmQ2) to[bend left=30] (SoilNApp);
    \draw[cn] (SoilNApp) to[bend right=25] (NIndex);
    \draw[cn] (ManNApplQ) to[bend right=20] (NIndex);
    \draw[cn] (AcreageQ2.north west) -- (SoilNApp);
    \draw[cn] (ManCreditFactQ) -- (NIndex);
    \draw[cn] (SoilNAct) -- (SoilNUse);
    \draw[cn] (NinYieldQ) -- (SoilNAct);
    \draw[cn] (ActualYieldQ) to[bend left=30] (SoilNAct);
    \draw[cn] (ActualYieldQ) to[bend left=40] (SoilPAct);
    \draw[cn] (BtoLBsQ) to[bend left=30] (SoilNAct);
    \draw[cn] (BtoLBsQ) -- (SoilPAct);
    \draw[cn] ([yshift=12pt]AcreageQ2.east) to[bend left=15] (SoilNUse);
    \draw[cn] ([yshift=6pt]AcreageQ2.east) to[bend left=30] (SoilPUse);
    \draw[cn] ([yshift=-5pt]AcreageQ2.west) -- (SoilPApp);
    \draw[cn] (SoilPAmmQ) to[bend left=30] (SoilPApp);
    \draw[cn] (SoilPApp) -- (PIndex);
    \draw[cn] (ManPApplQ) -- (PIndex);
    \draw[cn] (SoilPUse) to[bend right=15] (PIndex);
    \draw[cn] (ManCreditFactQ) to[bend right=20] (PIndex);
    \draw[cn] (SoilPAct) to[bend right=20] (SoilPUse);
    \draw[cn] (PinYieldQ) to[bend left=20] (SoilPAct);
    \draw[cn] (ManPerAcIn) -- (ManPerAc);
    \draw[cn] ([xshift=10pt]AcreageQ3.north west) to[bend left=40] (ManPerAc);
    \draw[cn] (ManPerAc) -- (OrgMatFact);
    \draw[cn] (ResGrazedQ) -- (OrgMatFact);
    \draw[cn] (SoilOrgMod) -- (OrgMatFact);
    \draw[cn] (MaintAmt) -- (OrgMatFact);
    \draw[cn] (RateHIQ) -- (OrgMatFact);
    \draw[cn] (RootMassAdj) -- (OrgMatFact);
    \draw[cn] (REVconvert) -- (OrgMatFact);
    \draw[cn] ([xshift=-8pt]AcreageQ3.north east) -- (OrgMatFact);
    \draw[cn] (SoilDistRateQ) to[bend left=20] (TFOpFactIn);
    \draw[cn] (TFOpFactIn) -- (TFOpFact);
    \draw[cn] (TFOpFact) to[bend right=30] (CropSCI);
    \draw[cn] (ErosTable) -- (TErosFact);
    \draw[cn] (TErosFact) -- (ErosionFact);
    \draw[cn] (ErosionFact) to[bend left=20] (CropSCI);
    \draw[cn] (OrgMatFact) -- (CropSCI);
    \draw[cn] (CropSCI) to[bend right=20] (WtSCI);
    \draw[cn] (WtSCI) -- (SCI);
    \draw[cn] (WtAcre) -- (WtSCI);
    \draw[cn] ([xshift=-10pt]AcreageQ3.south east) to[bend left=30] (WtAcre);
    \draw[cn] ([yshift=-6pt]AcreageQ3.west) to[bend right=30] (GrWtAcre);
    \draw[cn] (GrAcreageQ) -- (WtAcre);
    \draw[cn] (GrAcreageQ) to[bend left=15] (GrWtAcre);
    \draw[cn] (GrWtAcre) -- (GrWtSCI);
    \draw[cn] (GrWtSCI) -- (SCI);
    \draw[cn] (GrOrgMatFact) to[bend right=5] (GrWtSCI);
    \draw[cn] (GrFieldOpFact) to[bend left=20] (GrWtSCI);
    \draw[cn] (GrErosFact) to[bend right=20] (GrWtSCI);
    \draw[cn] (GrFieldOpTable) to[bend right=25] (GrFieldOpFact);
    \draw[cn] (GrErosTable) to[bend right=25] (GrErosFact);
    \draw[cn] (GrAmtQ) -- (GrOrgMatFact);
    \draw[cn] (GrAcreageQ) -- (GrOrgMatFact);
    \draw[cn] (SoilOrgMod) to[out=0, in=20, looseness=1.8] (GrOrgMatFact);
    \draw[cn] (MaintAmt) to[out=0, in=10, looseness=1.5] (GrOrgMatFact);
    \draw[cn] (GrProdQ) to[bend left=10] (GrOrgMatFact);
    \draw[cn] (GrRootMassAdj) -- (GrOrgMatFact);
    \draw[cn] (GrREVconvert) to[bend left=20] (GrOrgMatFact);
    \draw[cn] (CropSCIQ) to[bend right=30] (SCIflow);

\end{tikzpicture}
\end{document}
